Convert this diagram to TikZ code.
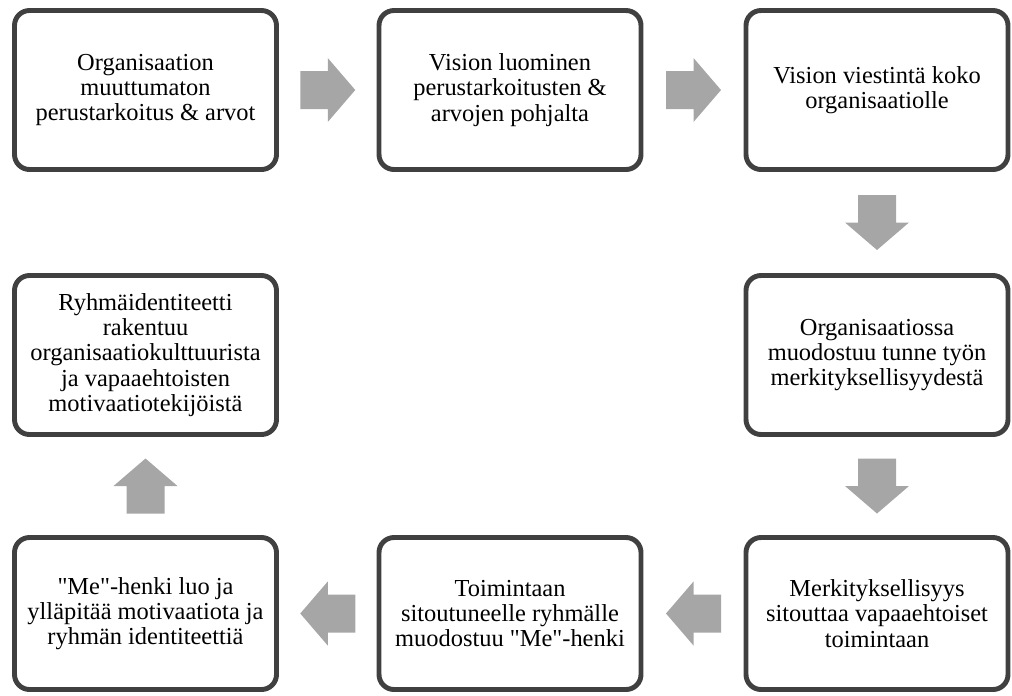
\documentclass[tikz,border=0pt]{standalone}
\usepackage{fontspec}
\setmainfont{Liberation Serif}[Ligatures=TeXOff]
\usetikzlibrary{calc}
\definecolor{boxline}{HTML}{404040}
\definecolor{arrowgray}{HTML}{A6A6A6}
\begin{document}
\begin{tikzpicture}[
  box/.style={rectangle, draw=boxline, line width=2.8pt, rounded corners=0.3cm,
    minimum width=5.24cm, minimum height=3.18cm, align=center,
    font=\fontsize{13.9}{14.4}\selectfont},
  flow/.pic={\fill[arrowgray] (-0.55,-0.38) -- (0,-0.38) -- (0,-0.64) -- (0.55,0)
    -- (0,0.64) -- (0,0.38) -- (-0.55,0.38) -- cycle;}
]
\useasboundingbox (0,0) rectangle (20.24,-13.9);
% Top row
\node[box] (purpose) at (2.91, -1.8) {Organisaation\\muuttumaton\\perustarkoitus \& arvot};
\node[box] (vision) at (10.2, -1.8) {Vision luominen\\perustarkoitusten \&\\arvojen pohjalta};
\node[box] (message) at (17.54, -1.8) {Vision viestintä koko\\organisaatiolle};
% Middle row
\node[box] (identity) at (2.91, -7.1) {Ryhmäidentiteetti\\rakentuu\\organisaatiokulttuurista\\ja vapaaehtoisten\\motivaatiotekijöistä};
\node[box] (meaning) at (17.54, -7.1) {Organisaatiossa\\muodostuu tunne työn\\merkityksellisyydestä};
% Bottom row
\node[box, minimum height=3.04cm] (spirit) at (2.91, -12.27) {"Me"-henki luo ja\\ylläpitää motivaatiota ja\\ryhmän identiteettiä};
\node[box, minimum height=3.04cm] (group) at (10.2, -12.27) {Toimintaan\\sitoutuneelle ryhmälle\\muodostuu "Me"-henki};
\node[box, minimum height=3.04cm] (commit) at (17.54, -12.27) {Merkityksellisyys\\sitouttaa vapaaehtoiset\\toimintaan};
% Block arrows between the boxes
\pic at ($(purpose.east)!0.5!(vision.west)$) {flow};
\pic at ($(vision.east)!0.5!(message.west)$) {flow};
\pic[rotate=-90] at ($(message.south)!0.5!(meaning.north)$) {flow};
\pic[rotate=-90] at ($(meaning.south)!0.5!(commit.north)$) {flow};
\pic[rotate=180] at ($(commit.west)!0.5!(group.east)$) {flow};
\pic[rotate=180] at ($(group.west)!0.5!(spirit.east)$) {flow};
\pic[rotate=90] at ($(spirit.north)!0.5!(identity.south)$) {flow};
\end{tikzpicture}
\end{document}
